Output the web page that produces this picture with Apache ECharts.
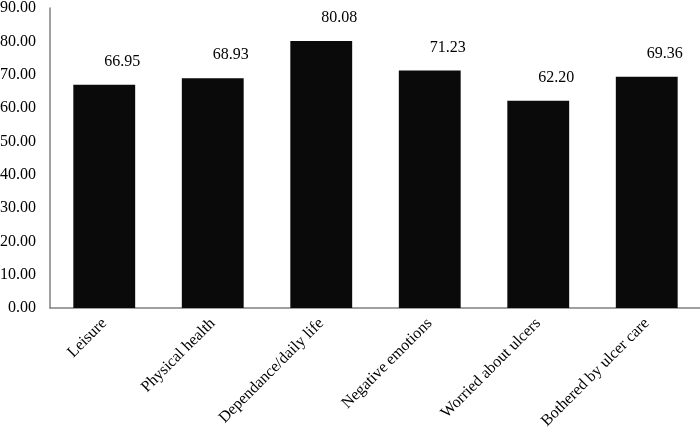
<!DOCTYPE html>
<html><head><meta charset="utf-8">
<script src="https://cdn.jsdelivr.net/npm/echarts@6/dist/echarts.min.js"></script>
<style>html,body{margin:0;padding:0;background:#fff}#c{width:700px;height:432px}</style>
</head><body><div id="c"></div>
<script>
const categories = ["Leisure","Physical health","Dependance/daily life","Negative emotions","Worried about ulcers","Bothered by ulcer care"];
const values = [66.95, 68.93, 80.08, 71.23, 62.20, 69.36];
const chart = echarts.init(document.getElementById('c'));
const font = "'Liberation Serif','Times New Roman',serif";
chart.setOption({
  animation:false,
  grid:{left:50,right:-1,top:8,bottom:124,containLabel:false,outerBoundsMode:'none'},
  xAxis:{type:'category',data:categories,
    axisLine:{lineStyle:{color:'#808080',width:1.5}},axisTick:{show:false},
    axisLabel:{rotate:45,interval:0,color:'#000',fontFamily:font,fontSize:16,margin:13}},
  yAxis:{type:'value',min:0,max:90,interval:10,
    axisLine:{show:true,lineStyle:{color:'#808080',width:1.5}},axisTick:{show:false},splitLine:{show:false},
    axisLabel:{color:'#000',fontFamily:font,fontSize:16,margin:14,formatter:v=>v.toFixed(2)}},
  series:[{type:'bar',data:values,barCategoryGap:'43%',itemStyle:{color:'#0a0a0a'},
    label:{show:true,position:'top',distance:15,offset:[18,0],color:'#000',fontFamily:font,fontSize:16,formatter:p=>p.value.toFixed(2)}}]
});
</script></body></html>
